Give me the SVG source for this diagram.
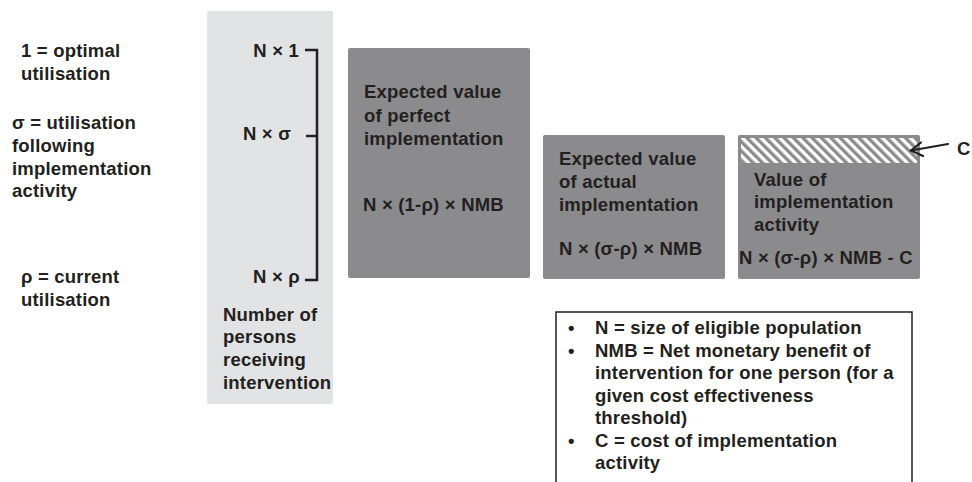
<svg xmlns="http://www.w3.org/2000/svg" width="972" height="482" viewBox="0 0 972 482">
  <style>
    text { font-family: "Liberation Sans", Arial, sans-serif; font-weight: bold; font-size: 18.5px; letter-spacing: 0.2px; fill: #231f20; }
    .end { text-anchor: end; }
    .box { fill: #8b8b8e; }
    .light { fill: #e2e3e5; }
    .line { stroke: #231f20; stroke-width: 2.5; fill: none; }
    .arrow { stroke: #231f20; stroke-width: 2.2; fill: none; stroke-linecap: round; stroke-linejoin: miter; }
  </style>
  <defs>
    <pattern id="hatch" patternUnits="userSpaceOnUse" width="6.6" height="6.6" patternTransform="rotate(-45)">
      <rect x="0" y="0" width="6.6" height="6.6" fill="#ffffff"/>
      <rect x="0" y="0" width="3.3" height="6.6" fill="#8b8b8e"/>
    </pattern>
  </defs>

  <g id="legend-left">
    <text x="21" y="57">1 = optimal</text>
    <text x="21" y="80">utilisation</text>
    <text x="12" y="129">σ = utilisation</text>
    <text x="12" y="152">following</text>
    <text x="12" y="175">implementation</text>
    <text x="12" y="197">activity</text>
    <text x="21" y="283">ρ = current</text>
    <text x="21" y="306">utilisation</text>
  </g>

  <g id="persons">
    <rect class="light" x="207" y="11" width="126" height="393" rx="2"/>
    <text class="end" x="299" y="57">N × 1</text>
    <text class="end" x="291" y="140">N × σ</text>
    <text class="end" x="300" y="283">N × ρ</text>
    <text x="223" y="321">Number of</text>
    <text x="223" y="343">persons</text>
    <text x="223" y="366">receiving</text>
    <text x="223" y="389">intervention</text>
  </g>

  <g id="perfect">
    <rect class="box" x="348" y="48" width="182" height="230" rx="2"/>
    <text x="364" y="98">Expected value</text>
    <text x="364" y="121.5">of perfect</text>
    <text x="364" y="145">implementation</text>
    <text x="363" y="211">N × (1-ρ) × NMB</text>
  </g>

  <g id="actual">
    <rect class="box" x="543" y="135" width="182" height="144" rx="2"/>
    <text x="559" y="165">Expected value</text>
    <text x="559" y="188">of actual</text>
    <text x="559" y="211">implementation</text>
    <text x="559" y="255">N × (σ-ρ) × NMB</text>
  </g>

  <g id="activity">
    <rect class="box" x="738" y="135" width="182" height="144" rx="2"/>
    <rect x="741" y="138" width="176" height="25" fill="url(#hatch)"/>
    <text x="754" y="186">Value of</text>
    <text x="754" y="208">implementation</text>
    <text x="754" y="231">activity</text>
    <text x="739" y="264">N × (σ-ρ) × NMB - C</text>
  </g>

  <g id="c-label">
    <text x="957" y="155">C</text>
  </g>

  <g id="legend-box">
    <rect x="556" y="312" width="356" height="200" fill="none" stroke="#231f20" stroke-width="1.5"/>
    <text x="568" y="334">•</text>
    <text x="595" y="334">N = size of eligible population</text>
    <text x="568" y="356.5">•</text>
    <text x="595" y="356.5">NMB = Net monetary benefit of</text>
    <text x="595" y="379">intervention for one person (for a</text>
    <text x="595" y="401.5">given cost effectiveness</text>
    <text x="595" y="424">threshold)</text>
    <text x="568" y="446.5">•</text>
    <text x="595" y="446.5">C = cost of implementation</text>
    <text x="595" y="469">activity</text>
  </g>

  <g id="connectors">
    <path class="line" d="M305,50 H317 V280 H305"/>
    <path class="line" d="M306,136 H317"/>
    <path class="arrow" d="M948,144 L911,150.5"/>
    <path class="arrow" d="M921,142.5 L911,150.5 L923,156"/>
  </g>
</svg>
